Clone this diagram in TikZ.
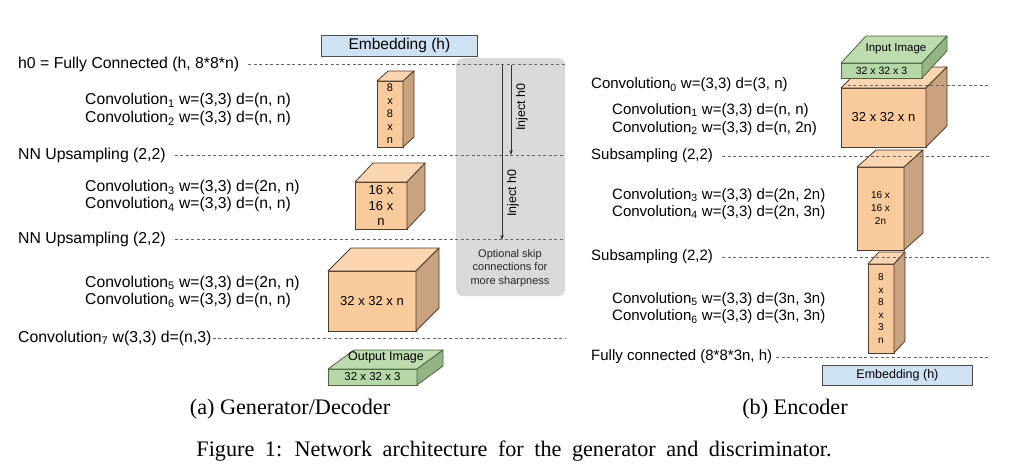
\documentclass[tikz,border=0pt]{standalone}
\usepackage{fontspec}
\setmainfont{Liberation Sans}
\newfontfamily\capfont{Liberation Serif}
\usetikzlibrary{arrows.meta,positioning,calc}

\definecolor{orgfront}{HTML}{F9CB9C}
\definecolor{orgtop}{HTML}{FBD6B0}
\definecolor{orgside}{HTML}{C9A27F}
\definecolor{orgedge}{HTML}{4E3B2A}
\definecolor{grnfront}{HTML}{B6D7A8}
\definecolor{grntop}{HTML}{BEDBB0}
\definecolor{grnside}{HTML}{93B585}
\definecolor{grnedge}{HTML}{4A6640}
\definecolor{embfill}{HTML}{CFE2F3}
\definecolor{skipgray}{HTML}{D9D9D9}

\newcommand{\conv}[1]{Convolution\textsubscript{#1}}
% front face as a node, top and side faces drawn on it
\newcommand{\blockcube}[9]{%
  \node[cubefront=#7, minimum width=#3, minimum height=#4, font=#8] (#1) at #2 {#9};
  \draw[draw=#7edge, fill=#7top, line width=0.8pt, line join=round]
    (#1.north west) -- ++(#5,-#6) -- ++(#3,0) -- (#1.north east) -- cycle;
  \draw[draw=#7edge, fill=#7side, line width=0.8pt, line join=round]
    (#1.north east) -- ++(#5,-#6) -- ++(0,#4) -- (#1.south east) -- cycle;
}

\tikzset{
  lbl/.style={font=\fontsize{#1}{17.5}\selectfont, inner sep=0pt, anchor=west, align=left},
  lbl/.default=15,
  cubefront/.style={draw=#1edge, fill=#1front, line width=0.8pt, anchor=north west,
    inner sep=0pt, outer sep=0pt, align=center},
  embbox/.style={draw=black!70, fill=embfill, line width=0.8pt, inner sep=0pt,
    anchor=north west, minimum width=#1, minimum height=21},
  dashline/.style={draw=black!60, dash pattern=on 3pt off 2.5pt, line width=0.7pt},
  inject/.style={draw=black!80, line width=0.8pt, -{Stealth[length=5pt,width=3.5pt]}},
  small/.style={font=\fontsize{#1}{14}\selectfont},
  skipbox/.style={fill=skipgray, rounded corners=7pt, anchor=north west,
    minimum width=109, minimum height=238, inner sep=0pt},
  capt/.style={font=\capfont\fontsize{22.2}{26}\selectfont},
}

\begin{document}
\begin{tikzpicture}[x=1pt,y=-1pt]
  \path[fill=white, use as bounding box] (0,0) rectangle (1036,475);
  \coordinate (gend) at (565,0);
  \coordinate (eend) at (990,0);

  % (a) generator / decoder
  \node[skipbox] (skip) at (456,58) {};
  \node[font=\fontsize{11}{13.5}\selectfont, align=center, text=black!85] (skiptxt) at (510,268)
    {Optional skip\\connections for\\more sharpness};

  \node[embbox=156, small=15.5] (gemb) at (321,35) {Embedding (h)};
  \node[lbl=15.8] (h0) at (18,64) {h0 = Fully Connected (h, 8*8*n)};
  \node[lbl=15.7] (g12) at (85,109.5) {\conv{1} w=(3,3) d=(n, n)\\\conv{2} w=(3,3) d=(n, n)};
  \node[lbl=15.8] (up1) at (18,155) {NN Upsampling (2,2)};
  \node[lbl=15.7] (g34) at (85,196) {\conv{3} w=(3,3) d=(2n, n)\\\conv{4} w=(3,3) d=(n, n)};
  \node[lbl=15.8] (up2) at (18,239) {NN Upsampling (2,2)};
  \node[lbl=15.7] (g56) at (85,292) {\conv{5} w=(3,3) d=(2n, n)\\\conv{6} w=(3,3) d=(n, n)};
  \node[lbl=15.8] (g7) at (18,338) {\conv{7} w(3,3) d=(n,3)};

  \blockcube{gc8}{(377,81)}{26}{66}{11}{10}{org}{\fontsize{11}{13}\selectfont}{8\\x\\8\\x\\n}
  \blockcube{gc16}{(355,182)}{52}{47}{18}{19}{org}{\fontsize{13}{15.5}\selectfont}{16 x\\16 x\\n}
  \blockcube{gc32}{(328,271)}{88}{60}{23}{23}{org}{\fontsize{13}{15}\selectfont}{32 x 32 x n}
  \blockcube{gout}{(328,369)}{89}{16}{26}{19}{grn}{\fontsize{11.5}{13}\selectfont}{32 x 32 x 3}
  \node[small=12.5] (outtxt) at (386,357) {Output Image};

  \draw[dashline] ([xshift=9]h0.east) -- (h0.east -| gend);
  \draw[dashline] ([xshift=9]up1.east) -- (up1.east -| gend);
  \draw[dashline] ([xshift=9]up2.east) -- (up2.east -| gend);
  \draw[dashline] ([xshift=1]g7.east) -- (g7.east -| gend);

  % inject arrows
  \coordinate (inj1s) at (511,65);
  \coordinate (inj1e) at (511,155);
  \coordinate (inj2s) at (502,65);
  \coordinate (inj2e) at (502,240);
  \draw[inject] (inj1s) -- (inj1e);
  \draw[inject] (inj2s) -- (inj2e);
  \node[small=12.5, rotate=90] (inj1) at (522,107) {Inject h0};
  \node[small=12.5, rotate=90] (inj2) at (513,193) {Inject h0};

  % (b) encoder
  \blockcube{ec32}{(841,88)}{85}{59}{21}{21}{org}{\fontsize{13}{15}\selectfont}{32 x 32 x n}
  \blockcube{ein}{(841,63)}{81}{15}{25}{27}{grn}{\fontsize{10.5}{12}\selectfont}{32 x 32 x 3}
  \node[small=11.5] (intxt) at (896,49) {Input Image};
  \blockcube{ec16}{(857,167)}{47}{83}{19}{17}{org}{\fontsize{10}{13}\selectfont}{16 x\\16 x\\2n}
  \blockcube{ec8}{(868,264)}{26}{89}{11}{12}{org}{\fontsize{10}{12.5}\selectfont}{8\\x\\8\\x\\3\\n}
  \node[embbox=150, small=12.5, minimum height=20] (eemb) at (822,365) {Embedding (h)};

  \node[lbl] (e0) at (591,85) {\conv{0} w=(3,3) d=(3, n)};
  \node[lbl] (e12) at (612,119.5) {\conv{1} w=(3,3) d=(n, n)\\\conv{2} w=(3,3) d=(n, 2n)};
  \node[lbl] (sub1) at (591,156) {Subsampling (2,2)};
  \node[lbl] (e34) at (612,204) {\conv{3} w=(3,3) d=(2n, 2n)\\\conv{4} w=(3,3) d=(2n, 3n)};
  \node[lbl] (sub2) at (591,257) {Subsampling (2,2)};
  \node[lbl] (e56) at (612,308) {\conv{5} w=(3,3) d=(3n, 3n)\\\conv{6} w=(3,3) d=(3n, 3n)};
  \node[lbl] (efc) at (591,357) {Fully connected (8*8*3n, h)};

  \draw[dashline] ([xshift=60]e0.east) -- (e0.east -| eend);
  \draw[dashline] ([xshift=9]sub1.east) -- (sub1.east -| eend);
  \draw[dashline] ([xshift=9]sub2.east) -- (sub2.east -| eend);
  \draw[dashline] ([xshift=4]efc.east) -- (efc.east -| eend);

  % captions
  \node[capt] (capa) at (290,409) {(a) Generator/Decoder};
  \node[capt] (capb) at (795,409) {(b) Encoder};
  \node[capt] (capfig) at (514,451)
    {\spaceskip=10.5pt plus 1pt Figure 1: Network architecture for the generator and discriminator.};
\end{tikzpicture}
\end{document}
